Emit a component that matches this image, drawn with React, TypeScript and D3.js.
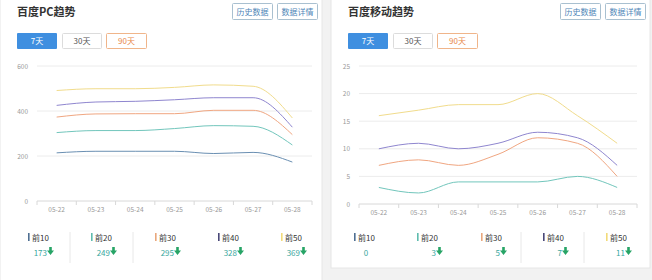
import React from "react";
import * as d3 from "d3";

const dates = ["05-22", "05-23", "05-24", "05-25", "05-26", "05-27", "05-28"];
const seriesNames = ["前10", "前20", "前30", "前40", "前50"];
const colors = ["#6a8fb2", "#72c6bc", "#f0a681", "#8f86cf", "#f1dc8c"];
const legendColors = ["#4f6f92", "#5fbcae", "#e9a77c", "#4a4878", "#f2db7a"];

const pcTop10 = [214, 221, 221, 221, 211, 216, 173];
const pcTop20 = [304, 313, 313, 322, 335, 332, 249];
const pcTop30 = [373, 387, 388, 388, 403, 403, 295];
const pcTop40 = [425, 440, 443, 450, 459, 459, 328];
const pcTop50 = [491, 499, 499, 505, 516, 510, 369];
const pcTicks = [0, 200, 400, 600];

const mTop10 = [0, 0, 0, 0, 0, 0, 0];
const mTop20 = [3, 2, 4, 4, 4, 5, 3];
const mTop30 = [7, 8, 7, 9, 12, 11, 5];
const mTop40 = [10, 11, 10, 11, 13, 12, 7];
const mTop50 = [16, 17, 18, 18, 20, 16, 11];
const mTicks = [0, 5, 10, 15, 20, 25];

const pcLegend = ["173", "249", "295", "328", "369"];
const mLegend = ["0", "3", "5", "7", "11"];
const mArrows = [false, true, true, true, true];
const pcArrows = [true, true, true, true, true];

const FONT = "'Noto Sans CJK SC', 'Noto Sans', sans-serif";

function Arrow({ x, y }: { x: number; y: number }) {
  return (
    <path
      d={`M${x - 1.3},${y - 5} h2.6 v3.5 h2.2 l-3.5,4.5 l-3.5,-4.5 h2.2 z`}
      fill="#27a466"
    />
  );
}

function Panel(props: {
  x0: number;
  x1: number;
  y1: number;
  title: string;
  series: number[][];
  ticks: number[];
  yMax: number;
  plotX0: number;
  plotX1: number;
  yZero: number;
  yTop: number;
  legend: string[];
  arrows: boolean[];
  seps: number[];
  legendX: number[];
  hideFirst?: boolean;
}) {
  const p = props;
  const x = d3.scaleBand<string>().domain(dates).range([p.plotX0, p.plotX1]);
  const y = d3.scaleLinear().domain([0, p.yMax]).range([p.yZero, p.yTop]);
  const line = d3
    .line<number>()
    .x((_, i) => (x(dates[i]) as number) + x.bandwidth() / 2)
    .y((d) => y(d))
    .curve(d3.curveMonotoneX);
  const bx = p.x1 - 90;
  return (
    <g>
      <rect x={p.x0} y={-1} width={p.x1 - p.x0} height={p.y1 + 1} fill="#fff" stroke="#e6e6e6" />
      <text x={p.x0 + 17} y={16} fontSize={11} fontWeight={600} fill="#333" fontFamily={FONT}>
        {p.title}
      </text>
      {["历史数据", "数据详情"].map((t, i) => (
        <g key={t}>
          <rect x={bx + i * 45 + 0.5} y={3.5} width={40} height={16} fill="#fff" stroke="#a9c0d0" rx={1} />
          <text x={bx + i * 45 + 20.5} y={14.5} fontSize={8} textAnchor="middle" fill="#4f86b8" fontFamily={FONT}>
            {t}
          </text>
        </g>
      ))}
      <rect x={p.x0 + 17} y={33} width={40} height={16} fill="#3f8fe0" rx={1} />
      <text x={p.x0 + 37} y={44} fontSize={8} textAnchor="middle" fill="#fff" fontFamily={FONT}>7天</text>
      <rect x={p.x0 + 62.5} y={33.5} width={39} height={15} fill="#fff" stroke="#dcdcdc" rx={1} />
      <text x={p.x0 + 82} y={44} fontSize={8} textAnchor="middle" fill="#555" fontFamily={FONT}>30天</text>
      <rect x={p.x0 + 106.5} y={33.5} width={40} height={15} fill="#fff" stroke="#f0b58a" rx={1} />
      <text x={p.x0 + 126.5} y={44} fontSize={8} textAnchor="middle" fill="#e8894a" fontFamily={FONT}>90天</text>

      {p.ticks.map((t) => (
        <g key={t}>
          {t !== 0 && (
            <line x1={p.plotX0} x2={p.plotX1} y1={y(t)} y2={y(t)} stroke="#ececec" strokeWidth={1} />
          )}
          <text x={p.plotX0 - 9} y={y(t) + 2.5} fontSize={6.5} textAnchor="end" fill="#999" fontFamily={FONT}>
            {t}
          </text>
        </g>
      ))}
      <line x1={p.plotX0} x2={p.plotX1} y1={p.yZero} y2={p.yZero} stroke="#d8d8d8" />
      {d3.range(dates.length + 1).map((i) => {
        const xx = p.plotX0 + i * x.step();
        return <line key={i} x1={xx} x2={xx} y1={p.yZero} y2={p.yZero + 4} stroke="#d8d8d8" />;
      })}
      {dates.map((d) => (
        <text
          key={d}
          x={(x(d) as number) + x.bandwidth() / 2}
          y={p.yZero + 11}
          fontSize={6.5}
          textAnchor="middle"
          fill="#999"
          fontFamily={FONT}
        >
          {d}
        </text>
      ))}
      {p.series.map((s, i) =>
        p.hideFirst && i === 0 ? null : (
          <path key={i} d={line(s) || ""} fill="none" stroke={colors[i]} strokeWidth={1} />
        )
      )}

      {p.seps.map((sx) => (
        <line key={sx} x1={sx} x2={sx} y1={232} y2={263} stroke="#e8e8e8" />
      ))}
      {seriesNames.map((n, i) => {
        const lx = p.legendX[i];
        return (
          <g key={n}>
            <rect x={lx} y={233} width={1.6} height={8} fill={legendColors[i]} />
            <text x={lx + 4} y={241} fontSize={8} fill="#333" fontFamily={FONT}>
              {n}
            </text>
            <text
              x={p.arrows[i] ? lx + 19 : lx + 12}
              y={256}
              fontSize={8}
              textAnchor={p.arrows[i] ? "end" : "middle"}
              fill="#3aa79e"
              fontFamily={FONT}
            >
              {p.legend[i]}
            </text>
            {p.arrows[i] && <Arrow x={lx + 22.5} y={252} />}
          </g>
        );
      })}
    </g>
  );
}

export default function App() {
  return (
    <svg
      width={652}
      height={280}
      style={{ position: "absolute", left: 0, top: 0, background: "#f2f2f2" }}
    >
      <Panel
        x0={0}
        x1={322}
        y1={281}
        title="百度PC趋势"
        series={[pcTop10, pcTop20, pcTop30, pcTop40, pcTop50]}
        ticks={pcTicks}
        yMax={600}
        plotX0={37}
        plotX1={312}
        yZero={201}
        yTop={66}
        legend={pcLegend}
        arrows={pcArrows}
        seps={[70, 133]}
        legendX={[28, 91, 155, 218, 281]}
      />
      <Panel
        x0={331}
        x1={650}
        y1={268}
        title="百度移动趋势"
        series={[mTop10, mTop20, mTop30, mTop40, mTop50]}
        ticks={mTicks}
        yMax={25}
        plotX0={359}
        plotX1={637}
        yZero={204}
        yTop={66}
        legend={mLegend}
        arrows={mArrows}
        seps={[521, 584]}
        legendX={[354, 417, 481, 543, 606]}
        hideFirst
      />
    </svg>
  );
}
